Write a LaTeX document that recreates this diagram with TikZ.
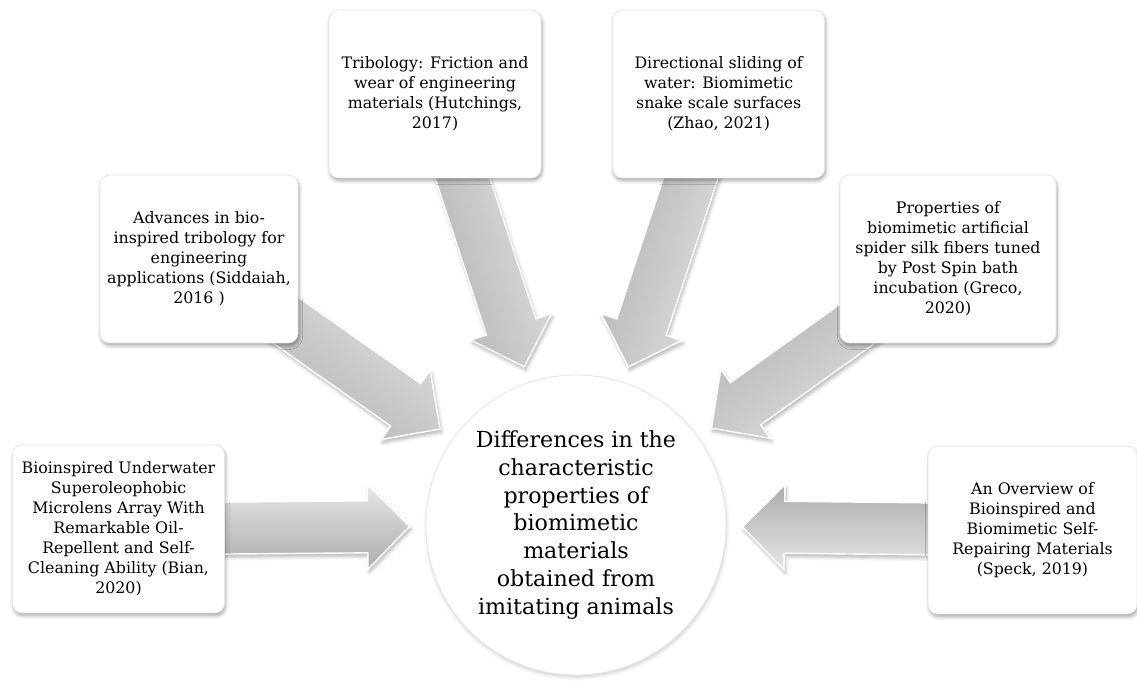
\documentclass[tikz,border=0pt]{standalone}
\usepackage{fontspec}
\setmainfont{DejaVu Serif}
\usetikzlibrary{positioning,calc,backgrounds,shadows.blur}
\definecolor{bioLight}{HTML}{e6e6e6}
\definecolor{bioGrey}{HTML}{cacaca}
\definecolor{bioDark}{HTML}{adadad}
\definecolor{bioEdge}{HTML}{e6e6e6}
\tikzset{
  src/.style={rounded corners=5.5pt, draw=bioEdge, fill=white, align=center,
              minimum width=4.24cm, minimum height=3.36cm, inner sep=2pt,
              font=\fontsize{9}{11.4}\selectfont,
              blur shadow={shadow blur steps=5, shadow xshift=0.6pt,
                           shadow yshift=-1.6pt, shadow opacity=35}},
  hub/.style={circle, draw=bioEdge, fill=white, minimum size=6cm, align=center,
              font=\fontsize{12.6}{15.9}\selectfont,
              blur shadow={shadow blur steps=5, shadow xshift=0.4pt,
                           shadow yshift=-1.2pt, shadow opacity=20}},
  fat/.style={draw=white, line width=0.8pt, top color=bioLight,
              middle color=bioGrey, bottom color=bioDark,
              blur shadow={shadow blur steps=5, shadow xshift=0.8pt,
                           shadow yshift=-1.8pt, shadow opacity=30}},
}
\newcommand{\shaftw}{0.52cm}
\newcommand{\headw}{0.85cm}
\newcommand{\headl}{0.84cm}
\newcommand{\tipgap}{3.33cm}
% block arrow from a source box to the hub: #1 source, #2 hub, #3 shading angle
\newcommand{\fatarrow}[3]{%
  \coordinate (tip) at ($(#2.center)!\tipgap!(#1.center)$);
  \coordinate (hb) at ($(tip)!\headl!(#1.center)$);
  \path[fat, shading angle=#3]
    ($(#1.center)!\shaftw!90:(tip)$) -- ($(hb)!\shaftw!90:(tip)$)
    -- ($(hb)!\headw!90:(tip)$) -- (tip) -- ($(hb)!\headw!-90:(tip)$)
    -- ($(hb)!\shaftw!-90:(tip)$) -- ($(#1.center)!\shaftw!-90:(tip)$) -- cycle;
}
\begin{document}
\begin{tikzpicture}[x=0.02cm, y=-0.02cm]
  \useasboundingbox (0,0) rectangle (1137,681);
  \node[hub] (core) at (576,525) {Differences in the\\characteristic\\properties of\\biomimetic\\materials\\obtained from\\imitating animals};
  \node[src] (bian) at (118.5,529) {Bioinspired Underwater\\Superoleophobic\\Microlens Array With\\Remarkable Oil-\\Repellent and Self-\\Cleaning Ability (Bian,\\2020)};
  \node[src, minimum width=3.96cm] (sidd) at (199,259) {Advances in bio-\\inspired tribology for\\engineering\\applications (Siddaiah,\\2016 )};
  \node[src] (hutch) at (435,94) {Tribology: Friction and\\wear of engineering\\materials (Hutchings,\\2017)};
  \node[src, right=1.42cm of hutch] (zhao) {Directional sliding of\\water: Biomimetic\\snake scale surfaces\\(Zhao, 2021)};
  \node[src, minimum width=4.32cm] (greco) at (948,259) {Properties of\\biomimetic artificial\\spider silk fibers tuned\\by Post Spin bath\\incubation (Greco,\\2020)};
  \node[src, minimum width=4.18cm] (speck) at (1032.5,530) {An Overview of\\Bioinspired and\\Biomimetic Self-\\Repairing Materials\\(Speck, 2019)};
  \begin{scope}[on background layer]
    \fatarrow{bian}{core}{0}
    \fatarrow{sidd}{core}{-37}
    \fatarrow{hutch}{core}{-73}
    \fatarrow{zhao}{core}{-107}
    \fatarrow{greco}{core}{-144}
    \fatarrow{speck}{core}{180}
  \end{scope}
\end{tikzpicture}
\end{document}
